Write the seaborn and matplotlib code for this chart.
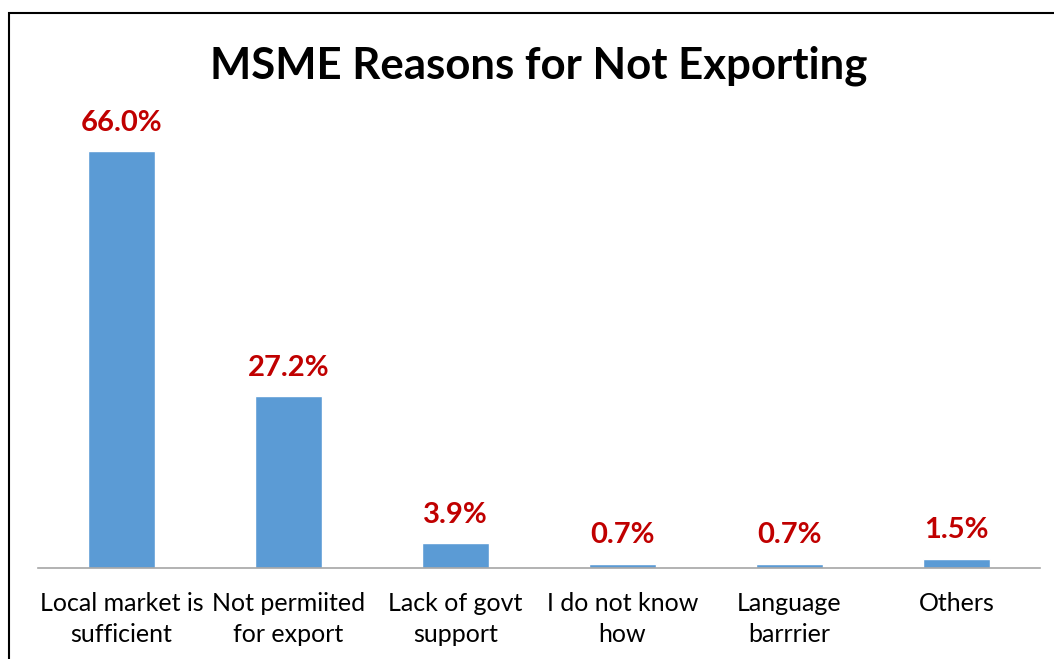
import matplotlib
matplotlib.use("Agg")
import matplotlib.pyplot as plt
from matplotlib.patches import Rectangle
import seaborn as sns
import pandas as pd

categories = ["Local market is\nsufficient", "Not permiited\nfor export", "Lack of govt\nsupport",
              "I do not know\nhow", "Language\nbarrrier", "Others"]
shares = [66.0, 27.2, 3.9, 0.7, 0.7, 1.5]
title = "MSME Reasons for Not Exporting"

sns.set_style("white")
plt.rcParams["font.family"] = ["Lato", "DejaVu Sans"]

df = pd.DataFrame({"reason": categories, "share": shares})

fig = plt.figure(figsize=(10.54, 6.59), dpi=100)
ax = fig.add_axes([38 / 1054, 91 / 659, 1002 / 1054, 442 / 659])

sns.barplot(data=df, x="reason", y="share", color="#5B9BD5", width=0.4, ax=ax,
            saturation=1)
ax.set_ylim(0, 70)
ax.set_xlim(-0.5, len(categories) - 0.5)

for i, v in enumerate(shares):
    ax.annotate(f"{v:.1f}%", (i, v), xytext=(0, 11), textcoords="offset points",
                ha="center", va="bottom", color="#C00000", fontsize=21, fontweight="bold")

for s in ["top", "right", "left"]:
    ax.spines[s].set_visible(False)
ax.spines["bottom"].set_color("#A6A6A6")
ax.spines["bottom"].set_linewidth(1.2)
ax.set_yticks([])
ax.set_xlabel("")
ax.set_ylabel("")
ax.tick_params(axis="x", length=0, pad=17, labelsize=18, labelcolor="black")
for lbl in ax.get_xticklabels():
    lbl.set_linespacing(1.45)

fig.text(539 / 1054, 1 - 66 / 659, title, ha="center", va="center",
         fontsize=31.5, fontweight="bold", color="black")

# outer frame of the chart area
fig.patches.append(Rectangle((9 / 1054, -0.1), 1.2, 1 - 13 / 659 + 0.1,
                             transform=fig.transFigure, fill=False,
                             edgecolor="black", linewidth=1.5))

fig.savefig("out.png", dpi=100)
